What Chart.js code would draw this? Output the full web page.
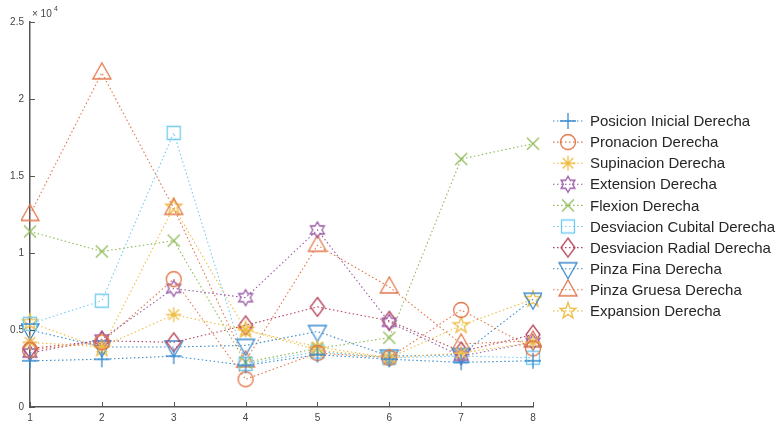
<!DOCTYPE html>
<html>
<head>
<meta charset="utf-8">
<script src="https://cdn.jsdelivr.net/npm/chart.js@4"></script>
<style>
  html, body { margin: 0; padding: 0; background: #fff; }
  #wrap { width: 784px; height: 426px; position: relative; }
</style>
</head>
<body>
<div id="wrap"><canvas id="myChart"></canvas></div>
<script>
// x positions (trial number)
const labels = ['1', '2', '3', '4', '5', '6', '7', '8'];

// one array per series
const posicionInicial = [3000, 3100, 3300, 2700, 3400, 3100, 2900, 3000];
const pronacion       = [3700, 4200, 8300, 1800, 3500, 3200, 6300, 3800];
const supinacion      = [4200, 3900, 6000, 5000, 3900, 3200, 3500, 4200];
const extension       = [3500, 4400, 7700, 7100, 11500, 5500, 3300, 4200];
const flexion         = [11400, 10100, 10800, 2900, 3800, 4500, 16100, 17100];
const desvCubital     = [5400, 6900, 17800, 2800, 3600, 3200, 3300, 3200];
const desvRadial      = [3800, 4300, 4200, 5300, 6500, 5600, 3600, 4700];
const pinzaFina       = [5000, 3900, 3900, 4000, 4900, 3300, 3400, 7000];
const pinzaGruesa     = [12500, 21700, 12900, 3000, 10500, 7800, 4100, 4300];
const expansion       = [5500, 3800, 13000, 5000, 3700, 3200, 5300, 7000];

const seriesNames = [
  'Posicion Inicial Derecha', 'Pronacion Derecha', 'Supinacion Derecha',
  'Extension Derecha', 'Flexion Derecha', 'Desviacion Cubital Derecha',
  'Desviacion Radial Derecha', 'Pinza Fina Derecha', 'Pinza Gruesa Derecha',
  'Expansion Derecha'
];
const seriesData = [posicionInicial, pronacion, supinacion, extension, flexion,
  desvCubital, desvRadial, pinzaFina, pinzaGruesa, expansion];

const yTicks = [0, 5000, 10000, 15000, 20000, 25000];

// matlab default colour order
const colors = ['#3a8bcf', '#e27648', '#eebd45', '#9a5aa6', '#8fbb58',
  '#74cbf1', '#b5435a', '#3a8bcf', '#e27648', '#eebd45'];
const shapes = ['plus', 'circle', 'asterisk', 'hexagram', 'x', 'square',
  'diamond', 'triDown', 'triUp', 'pentagram'];

function starPath(g, m, n, rOut, rIn, rot) {
  for (let i = 0; i < n * 2; i++) {
    const r = i % 2 === 0 ? rOut : rIn;
    const a = rot + i * Math.PI / n;
    const px = m + r * Math.cos(a), py = m + r * Math.sin(a);
    if (i === 0) g.moveTo(px, py); else g.lineTo(px, py);
  }
  g.closePath();
}

function makeMarker(shape, color) {
  const s = 26, m = s / 2;
  const c = document.createElement('canvas');
  c.width = s; c.height = s;
  const g = c.getContext('2d');
  g.strokeStyle = color;
  g.lineWidth = 1.3;
  g.beginPath();
  if (shape === 'plus') {
    g.moveTo(m - 8, m); g.lineTo(m + 8, m);
    g.moveTo(m, m - 8); g.lineTo(m, m + 8);
  } else if (shape === 'circle') {
    g.arc(m, m, 7.5, 0, Math.PI * 2);
  } else if (shape === 'asterisk') {
    for (let i = 0; i < 4; i++) {
      const a = i * Math.PI / 4;
      g.moveTo(m - 7.5 * Math.cos(a), m - 7.5 * Math.sin(a));
      g.lineTo(m + 7.5 * Math.cos(a), m + 7.5 * Math.sin(a));
    }
  } else if (shape === 'hexagram') {
    starPath(g, m, 6, 8, 4.6, -Math.PI / 2);
  } else if (shape === 'x') {
    g.moveTo(m - 6, m - 6); g.lineTo(m + 6, m + 6);
    g.moveTo(m + 6, m - 6); g.lineTo(m - 6, m + 6);
  } else if (shape === 'square') {
    g.rect(m - 6.5, m - 6.5, 13, 13);
  } else if (shape === 'diamond') {
    g.moveTo(m, m - 9.5); g.lineTo(m + 7, m); g.lineTo(m, m + 9.5); g.lineTo(m - 7, m);
    g.closePath();
  } else if (shape === 'triUp') {
    g.moveTo(m, m - 10); g.lineTo(m + 9, m + 6); g.lineTo(m - 9, m + 6);
    g.closePath();
  } else if (shape === 'triDown') {
    g.moveTo(m, m + 10); g.lineTo(m + 9, m - 6); g.lineTo(m - 9, m - 6);
    g.closePath();
  } else if (shape === 'pentagram') {
    starPath(g, m, 5, 8.5, 3.4, -Math.PI / 2);
  }
  g.stroke();
  return c;
}

const markers = shapes.map((sh, i) => makeMarker(sh, colors[i]));

const datasets = seriesNames.map((name, i) => ({
  label: name,
  data: seriesData[i],
  borderColor: colors[i],
  backgroundColor: colors[i],
  borderWidth: 1.1,
  borderDash: [1.5, 2.5],
  pointStyle: markers[i],
  pointRadius: 8,
  tension: 0,
  fill: false
}));

// ticks inside the axes, exponent label, matlab style legend
const matlabBits = {
  id: 'matlabBits',
  afterDraw(chart) {
    const ctx = chart.ctx;
    const xs = chart.scales.x, ys = chart.scales.y;
    const area = chart.chartArea;
    ctx.save();
    ctx.strokeStyle = '#555';
    ctx.lineWidth = 1;
    ys.ticks.forEach(t => {
      const py = Math.round(ys.getPixelForValue(t.value)) + 0.5;
      ctx.beginPath(); ctx.moveTo(area.left, py); ctx.lineTo(area.left + 5, py); ctx.stroke();
    });
    xs.ticks.forEach((t, i) => {
      const px = Math.round(xs.getPixelForTick(i)) + 0.5;
      ctx.beginPath(); ctx.moveTo(px, area.bottom); ctx.lineTo(px, area.bottom - 5); ctx.stroke();
    });

    ctx.fillStyle = '#444';
    ctx.font = '10px "Liberation Sans", Arial, sans-serif';
    ctx.textBaseline = 'alphabetic';
    ctx.fillText('\u00d7 10', area.left + 2, area.top - 5);
    ctx.font = '7px "Liberation Sans", Arial, sans-serif';
    ctx.fillText('4', area.left + 24, area.top - 11);

    // legend
    const lx = 553, ly = 121, step = 21.1;
    chart.data.datasets.forEach((ds, i) => {
      const y = ly + i * step;
      ctx.strokeStyle = ds.borderColor;
      ctx.lineWidth = 1.1;
      ctx.setLineDash([1.5, 2.5]);
      ctx.beginPath(); ctx.moveTo(lx, y); ctx.lineTo(lx + 30, y); ctx.stroke();
      ctx.setLineDash([]);
      const mk = ds.pointStyle;
      ctx.drawImage(mk, lx + 15 - mk.width / 2, y - mk.height / 2);
      ctx.fillStyle = '#262626';
      ctx.font = '15px "Liberation Sans", Arial, sans-serif';
      ctx.textBaseline = 'middle';
      ctx.fillText(ds.label, lx + 37, y + 1);
    });
    ctx.restore();
  }
};

const config = {
  type: 'line',
  data: { labels, datasets },
  options: {
    responsive: true,
    maintainAspectRatio: false,
    animation: false,
    layout: { padding: { top: 22, right: 251, left: 0, bottom: 0 } },
    plugins: {
      legend: { display: false },
      tooltip: { enabled: false }
    },
    scales: {
      x: {
        offset: false,
        grid: { display: false, drawTicks: false },
        border: { display: true, color: '#555', width: 1.5 },
        ticks: {
          padding: 5,
          color: '#444',
          font: { family: '"Liberation Sans", Arial, sans-serif', size: 10 },
          maxRotation: 0
        },
        afterFit(scale) { scale.height = 19; }
      },
      y: {
        min: 0,
        max: 25000,
        afterBuildTicks(scale) { scale.ticks = yTicks.map(v => ({ value: v })); },
        grid: { display: false, drawTicks: false },
        border: { display: true, color: '#555', width: 1.5 },
        ticks: {
          padding: 6,
          color: '#444',
          font: { family: '"Liberation Sans", Arial, sans-serif', size: 10 },
          callback: v => String(v / 10000)
        },
        afterFit(scale) { scale.width = 30; }
      }
    }
  },
  plugins: [matlabBits]
};

const myChart = new Chart(document.getElementById('myChart'), config);
</script>
</body>
</html>
